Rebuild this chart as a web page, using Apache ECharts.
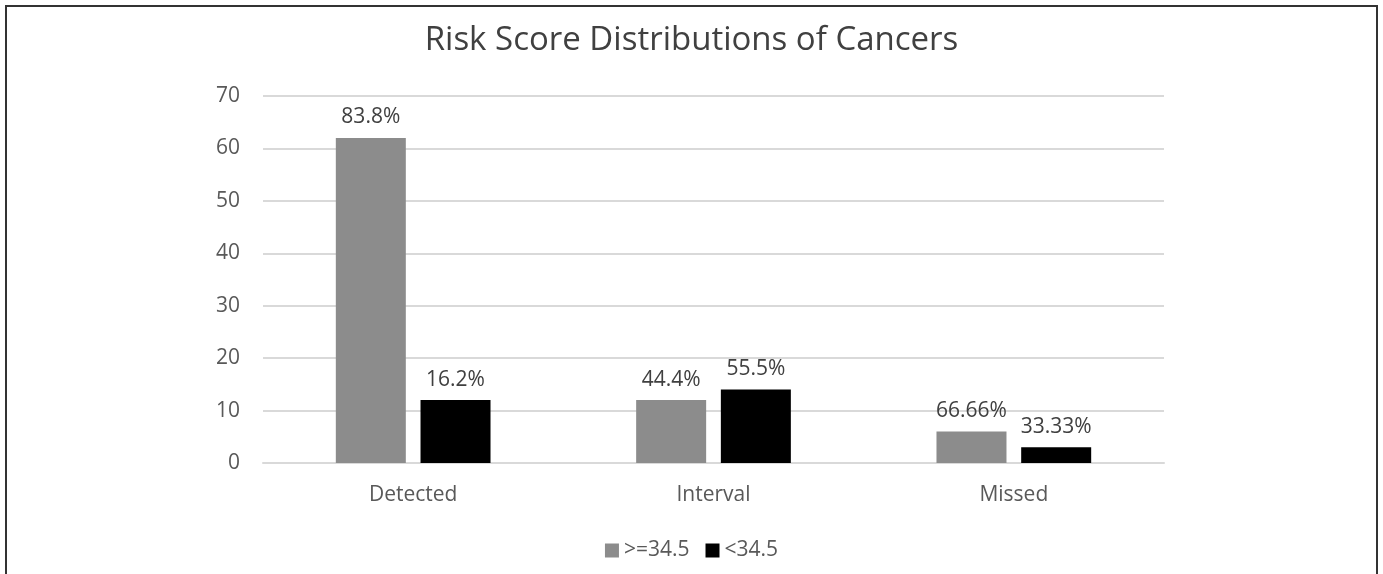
<!DOCTYPE html>
<html>
<head>
<meta charset="utf-8">
<script src="https://cdn.jsdelivr.net/npm/echarts@6/dist/echarts.min.js"></script>
<style>
html,body{margin:0;padding:0;background:#fff;}
#chart{width:1383px;height:574px;}
#frame{position:absolute;left:5px;top:5px;width:1369px;height:580px;border:2px solid #333;border-bottom:none;pointer-events:none;}
</style>
</head>
<body>
<div id="chart"></div>
<div id="frame"></div>
<script>
const categories = ['Detected', 'Interval', 'Missed'];
const seriesNames = ['>=34.5', '<34.5'];
const highValues = [62, 12, 6];
const lowValues = [12, 14, 3];
const highLabels = ['83.8%', '44.4%', '66.66%'];
const lowLabels = ['16.2%', '55.5%', '33.33%'];
const yTicks = [0, 10, 20, 30, 40, 50, 60, 70];

const font = '"Open Sans", "Noto Sans", sans-serif';
const chart = echarts.init(document.getElementById('chart'));
function mk(name, values, labels, color) {
  return {
    name: name, type: 'bar', data: values,
    barWidth: 70, barGap: '21%',
    itemStyle: {color: color},
    label: {show: true, position: 'top', distance: 10, color: '#404040', fontSize: 21, fontFamily: font,
      formatter: p => labels[p.dataIndex]}
  };
}
chart.setOption({
  animation: false,
  title: {text: 'Risk Score Distributions of Cancers', left: 'center', top: 19,
    textStyle: {fontSize: 33, fontWeight: 'normal', color: '#404040', fontFamily: font}},
  legend: {bottom: 8, left: 'center', itemWidth: 14, itemHeight: 14, itemGap: 16,
    icon: 'rect', textStyle: {fontSize: 21, color: '#595959', fontFamily: font}, data: seriesNames},
  grid: {left: 263, right: 219, top: 96, bottom: 111},
  xAxis: {type: 'category', data: categories,
    axisLine: {lineStyle: {color: '#d9d9d9', width: 2}}, axisTick: {show: false},
    axisLabel: {fontSize: 21, color: '#595959', margin: 22, fontFamily: font}},
  yAxis: {type: 'value', min: yTicks[0], max: yTicks[yTicks.length - 1], interval: 10,
    axisLine: {show: false}, axisTick: {show: false},
    splitLine: {lineStyle: {color: '#d9d9d9', width: 2}},
    axisLabel: {fontSize: 21, color: '#595959', margin: 23, fontFamily: font}},
  series: [mk(seriesNames[0], highValues, highLabels, '#8c8c8c'), mk(seriesNames[1], lowValues, lowLabels, '#000000')]
});
</script>
</body>
</html>
